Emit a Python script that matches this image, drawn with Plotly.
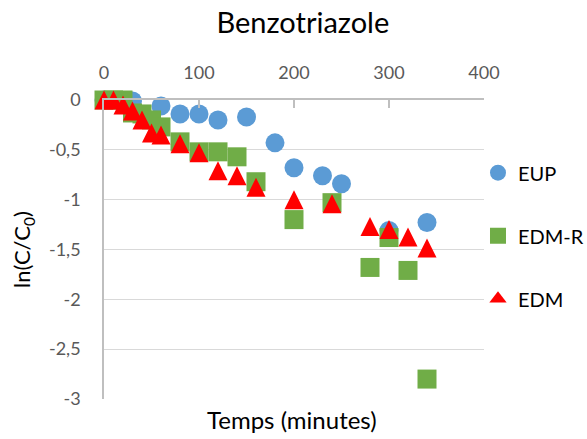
import plotly.graph_objects as go

# ---- data ----
t_eup = [0, 30, 60, 80, 100, 120, 150, 180, 200, 230, 250, 300, 340]
y_eup = [0, -0.01, -0.06, -0.14, -0.14, -0.2, -0.17, -0.43, -0.68, -0.76, -0.84, -1.31, -1.23]

t_edmr = [0, 10, 20, 30, 40, 50, 60, 80, 100, 120, 140, 160, 200, 240, 280, 300, 320, 340]
y_edmr = [0, 0, 0, -0.13, -0.14, -0.2, -0.27, -0.42, -0.52, -0.52, -0.57, -0.82, -1.2, -1.03, -1.68, -1.38, -1.71, -2.8]

t_edm = [0, 10, 20, 30, 40, 50, 60, 80, 100, 120, 140, 160, 200, 240, 280, 300, 320, 340]
y_edm = [0, 0, -0.05, -0.11, -0.2, -0.33, -0.35, -0.44, -0.53, -0.71, -0.76, -0.875, -1.0, -1.04, -1.27, -1.3, -1.375, -1.485]

x_ticks = [0, 100, 200, 300, 400]
x_ticktext = ["0", "100", "200", "300", "400"]
y_ticks = [0, -0.5, -1, -1.5, -2, -2.5, -3]
y_ticktext = ["0", "-0,5", "-1", "-1,5", "-2", "-2,5", "-3"]

names = ["EUP", "EDM-R", "EDM"]
FONT = "Lato"

fig = go.Figure()
fig.add_trace(go.Scatter(x=t_eup, y=y_eup, mode="markers", name=names[0], legendgroup="a",
                         marker=dict(symbol="circle", size=19, color="#5B9BD5"), cliponaxis=False))
fig.add_trace(go.Scatter(x=t_edmr, y=y_edmr, mode="markers", name=names[1], legendgroup="b",
                         marker=dict(symbol="square", size=19, color="#70AD47"), cliponaxis=False))
# EDM: isosceles triangle marker (arrow rotated, centred on its point)
fig.add_trace(go.Scatter(x=t_edm, y=y_edm, mode="markers", name=names[2], legendgroup="c",
                         showlegend=False,
                         marker=dict(symbol="arrow-down", angle=180, size=19, color="#FF0000",
                                     standoff=9.5),
                         cliponaxis=False))
# legend entry for EDM
fig.add_trace(go.Scatter(x=[None], y=[None], mode="markers", name=names[2], legendgroup="c",
                         marker=dict(symbol="triangle-up", size=15, color="#FF0000")))

fig.update_layout(
    width=587, height=439,
    margin=dict(l=103.5, r=103.4, t=99.5, b=39.5, autoexpand=False),
    paper_bgcolor="white", plot_bgcolor="white",
    font=dict(family=FONT, color="#595959"),
    title=dict(text="Benzotriazole", x=0.516, xanchor="center", y=0.947, yanchor="middle",
               font=dict(family=FONT, size=29, color="#000000")),
    showlegend=True,
    legend=dict(xref="container", yref="container", x=0.8143, xanchor="left",
                y=0.651, yanchor="top",
                traceorder="grouped", tracegroupgap=34,
                font=dict(family=FONT, size=20, color="#000000"),
                bgcolor="rgba(0,0,0,0)"),
    xaxis=dict(range=[0, 400], side="top", tickvals=x_ticks, ticktext=x_ticktext,
               showgrid=False, zeroline=False, showline=True, linecolor="#bfbfbf", linewidth=1.5,
               ticks="inside", ticklen=8, tickcolor="#bfbfbf", tickwidth=1.5,
               tickfont=dict(family=FONT, size=18, color="#595959"), ticklabelstandoff=12),
    yaxis=dict(range=[-3, 0], tickvals=y_ticks, ticktext=y_ticktext,
               showgrid=True, gridcolor="#d9d9d9", gridwidth=1.3, zeroline=False,
               showline=True, linecolor="#bfbfbf", linewidth=1.5, ticks="",
               tickfont=dict(family=FONT, size=18, color="#595959"), ticklabelstandoff=18),
    annotations=[
        dict(text="Temps (minutes)", xref="paper", yref="paper", x=0.495, y=-0.068,
             xanchor="center", yanchor="middle", showarrow=False,
             font=dict(family=FONT, size=24, color="#000000")),
        dict(text="ln(C/C<sub>0</sub>)", xref="paper", yref="paper", x=-0.2145, y=0.5,
             xanchor="center", yanchor="middle", textangle=-90, showarrow=False,
             font=dict(family=FONT, size=22, color="#000000")),
    ],
)

fig.write_html("out.html", config={"displayModeBar": False},
               post_script="document.body.style.margin='0';")
